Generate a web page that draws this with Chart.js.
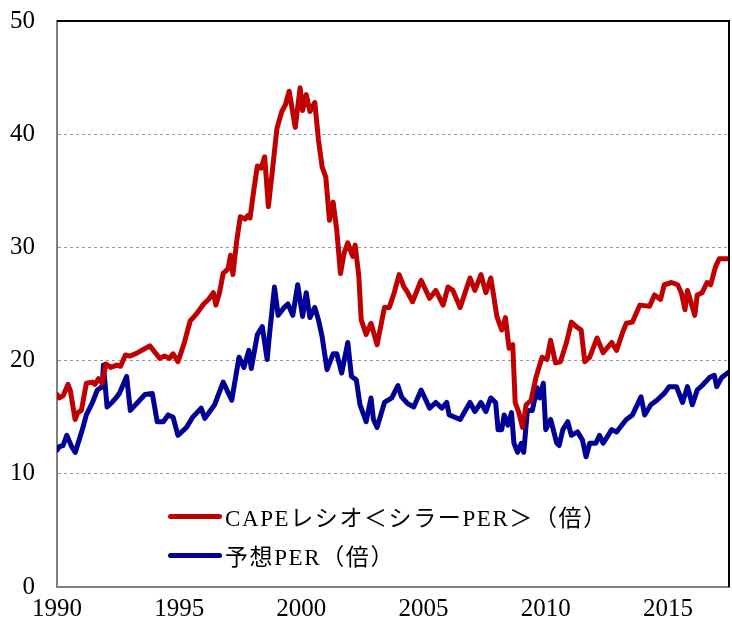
<!DOCTYPE html>
<html>
<head>
<meta charset="utf-8">
<script src="https://cdn.jsdelivr.net/npm/chart.js@4/dist/chart.umd.min.js"></script>
<style>
  body { margin: 0; background: #fff; }
  #wrap { position: relative; width: 732px; height: 628px; }
  .legend { position: absolute; left: 168px; font-family: "Liberation Serif", "Noto Sans CJK JP", serif; font-size: 23px; letter-spacing: 1.6px; color: #000; display: flex; align-items: center; white-space: nowrap; }
  .legend .swatch { width: 54px; height: 5px; border-radius: 3px; margin-right: 3px; }
</style>
</head>
<body>
<div id="wrap">
  <canvas id="chart"></canvas>
  <div class="legend" style="top: 499px;"><span class="swatch" style="background:#C00000"></span><span>CAPEレシオ＜シラーPER＞（倍）</span></div>
  <div class="legend" style="top: 538px;"><span class="swatch" style="background:#000096"></span><span>予想PER（倍）</span></div>
</div>
<script>
// CAPEレシオ（シラーPER）
const capeDates = [1990.0, 1990.1, 1990.25, 1990.45, 1990.55, 1990.74, 1990.85, 1991.0, 1991.2, 1991.45, 1991.55, 1991.7, 1991.85,
    1992.0, 1992.2, 1992.45, 1992.6, 1992.8, 1993.0, 1993.3, 1993.55, 1993.8, 1993.95, 1994.2, 1994.4, 1994.6, 1994.75, 1994.95,
    1995.2, 1995.45, 1995.7, 1996.0, 1996.2, 1996.4, 1996.5, 1996.65, 1996.8, 1997.0, 1997.1, 1997.2, 1997.35, 1997.5, 1997.7,
    1997.8, 1997.9, 1998.05, 1998.2, 1998.35, 1998.5, 1998.65, 1998.8, 1999.0, 1999.2, 1999.35, 1999.5, 1999.75, 1999.95,
    2000.05, 2000.2, 2000.35, 2000.55, 2000.7, 2000.85, 2001.0, 2001.15, 2001.3, 2001.45, 2001.6, 2001.75, 2001.9, 2002.1,
    2002.2, 2002.35, 2002.45, 2002.65, 2002.85, 2003.1, 2003.4, 2003.6, 2003.8, 2004.0, 2004.2, 2004.3, 2004.55, 2004.9,
    2005.25, 2005.5, 2005.8, 2006.0, 2006.2, 2006.5, 2006.9, 2007.1, 2007.35, 2007.55, 2007.75, 2007.85, 2008.0, 2008.2,
    2008.35, 2008.5, 2008.65, 2008.75, 2008.9, 2009.05, 2009.2, 2009.4, 2009.6, 2009.85, 2010.05, 2010.2, 2010.4, 2010.6,
    2010.85, 2011.05, 2011.25, 2011.45, 2011.6, 2011.8, 2012.1, 2012.35, 2012.7, 2012.9, 2013.15, 2013.3, 2013.55, 2013.85,
    2014.25, 2014.45, 2014.7, 2014.85, 2015.15, 2015.4, 2015.55, 2015.7, 2015.8, 2016.1, 2016.2, 2016.4, 2016.6, 2016.75,
    2016.95, 2017.1, 2017.5];
const capeValues = [17.0, 16.7, 16.9, 17.9, 17.3, 14.8, 15.4, 15.6, 18.0, 18.1, 17.9, 18.4, 18.0,
    19.7, 19.4, 19.6, 19.5, 20.5, 20.4, 20.7, 21.0, 21.3, 20.9, 20.2, 20.4, 20.2, 20.6, 19.9,
    21.5, 23.5, 24.1, 25.0, 25.4, 26.0, 24.9, 26.0, 27.7, 28.1, 29.3, 27.6, 30.5, 32.7, 32.5,
    32.8, 32.6, 35.0, 37.2, 37.0, 38.0, 33.6, 36.5, 40.5, 42.0, 42.6, 43.8, 40.6, 44.1,
    42.1, 43.5, 42.0, 42.8, 39.5, 37.1, 36.2, 32.4, 34.0, 31.5, 27.7, 29.5, 30.4, 29.2,
    30.2, 27.5, 23.6, 22.3, 23.3, 21.4, 24.7, 24.7, 26.0, 27.6, 26.5, 26.2, 25.2, 27.1,
    25.5, 26.2, 24.9, 26.5, 26.2, 24.7, 27.3, 26.2, 27.6, 26.0, 27.3, 26.0, 23.9, 22.7,
    23.8, 21.1, 21.4, 16.3, 15.4, 14.1, 16.1, 16.5, 18.5, 20.3, 20.1, 21.8, 19.8, 19.9,
    21.6, 23.4, 23.0, 22.7, 19.9, 20.3, 22.0, 20.7, 21.6, 20.9, 22.5, 23.3, 23.4, 24.9,
    24.8, 25.8, 25.4, 26.7, 26.9, 26.7, 26.0, 24.5, 26.2, 24.0, 25.8, 26.0, 26.9, 26.7,
    28.3, 29.0, 29.0];

// 予想PER
const perDates = [1990.0, 1990.1, 1990.25, 1990.4, 1990.6, 1990.75, 1990.95, 1991.05, 1991.2, 1991.45, 1991.65, 1991.85, 1991.9,
    1992.05, 1992.25, 1992.45, 1992.55, 1992.85, 1993.0, 1993.3, 1993.6, 1993.9, 1994.1, 1994.35, 1994.55, 1994.75, 1994.95,
    1995.3, 1995.55, 1995.9, 1996.05, 1996.45, 1996.8, 1997.15, 1997.45, 1997.65, 1997.85, 1997.95, 1998.2, 1998.4, 1998.6,
    1998.7, 1998.9, 1999.05, 1999.3, 1999.45, 1999.65, 1999.85, 2000.05, 2000.2, 2000.35, 2000.55, 2000.7, 2000.85, 2001.05,
    2001.3, 2001.45, 2001.65, 2001.9, 2002.05, 2002.25, 2002.4, 2002.65, 2002.85, 2002.95, 2003.1, 2003.4, 2003.7, 2003.95,
    2004.1, 2004.35, 2004.6, 2004.9, 2005.25, 2005.5, 2005.75, 2005.95, 2006.05, 2006.5, 2006.9, 2007.1, 2007.35, 2007.55,
    2007.75, 2007.95, 2008.05, 2008.2, 2008.3, 2008.45, 2008.6, 2008.7, 2008.85, 2009.0, 2009.1, 2009.25, 2009.45, 2009.65,
    2009.75, 2009.9, 2010.0, 2010.2, 2010.45, 2010.55, 2010.7, 2010.9, 2011.05, 2011.3, 2011.5, 2011.65, 2011.8, 2012.05,
    2012.2, 2012.35, 2012.7, 2012.9, 2013.15, 2013.3, 2013.55, 2013.9, 2014.05, 2014.3, 2014.55, 2014.85, 2015.05, 2015.35,
    2015.6, 2015.8, 2016.0, 2016.2, 2016.4, 2016.7, 2016.9, 2017.0, 2017.2, 2017.5];
const perValues = [12.1, 12.4, 12.5, 13.4, 12.4, 11.9, 13.3, 14.0, 15.2, 16.3, 17.4, 17.7, 19.6,
    15.9, 16.3, 16.8, 17.1, 18.6, 15.6, 16.3, 17.0, 17.1, 14.6, 14.6, 15.2, 15.0, 13.4,
    14.1, 15.0, 15.8, 14.9, 16.1, 18.1, 16.5, 20.3, 19.4, 20.9, 19.3, 22.3, 23.0, 20.1,
    22.4, 26.5, 24.0, 24.7, 25.0, 24.0, 26.7, 23.9, 26.0, 23.8, 24.7, 23.6, 22.1, 19.2,
    20.6, 20.6, 18.9, 21.6, 18.6, 18.3, 16.1, 14.6, 16.7, 14.8, 14.1, 16.3, 16.7, 17.8,
    16.8, 16.2, 15.9, 17.4, 15.8, 16.3, 15.8, 16.3, 15.2, 14.8, 16.3, 15.5, 16.3, 15.5,
    16.7, 16.3, 13.9, 13.9, 15.2, 14.3, 15.4, 12.7, 11.9, 12.7, 11.9, 15.6, 15.6, 17.6,
    16.7, 18.0, 13.9, 14.8, 12.7, 12.5, 13.9, 14.6, 13.4, 13.7, 13.0, 11.5, 12.7, 12.7,
    13.4, 12.7, 13.9, 13.7, 14.4, 14.8, 15.2, 16.8, 15.2, 16.1, 16.5, 17.1, 17.7, 17.7,
    16.3, 17.7, 16.1, 17.4, 17.8, 18.5, 18.7, 17.7, 18.5, 19.0];

const xTicks = [1990, 1995, 2000, 2005, 2010, 2015];
const yTicks = [0, 10, 20, 30, 40, 50];

const tickFont = { family: '"Liberation Serif", "DejaVu Serif", serif', size: 25 };

// 枠線（上と右は黒）
const framePlugin = {
    id: 'frame',
    afterDraw(chart) {
        const { ctx, chartArea: a } = chart;
        ctx.save();
        ctx.strokeStyle = '#000';
        ctx.lineWidth = 2;
        ctx.beginPath();
        ctx.moveTo(a.left, a.top);
        ctx.lineTo(a.right, a.top);
        ctx.lineTo(a.right, a.bottom);
        ctx.stroke();
        ctx.restore();
    }
};

new Chart(document.getElementById('chart'), {
    type: 'line',
    data: {
        datasets: [
            {
                label: 'CAPEレシオ＜シラーPER＞（倍）',
                data: capeDates.map((d, i) => ({ x: d, y: capeValues[i] })),
                borderColor: '#C00000',
                borderWidth: 5,
                pointRadius: 0,
                tension: 0,
                borderJoinStyle: 'round',
                borderCapStyle: 'round'
            },
            {
                label: '予想PER（倍）',
                data: perDates.map((d, i) => ({ x: d, y: perValues[i] })),
                borderColor: '#000096',
                borderWidth: 5,
                pointRadius: 0,
                tension: 0,
                borderJoinStyle: 'round',
                borderCapStyle: 'round'
            }
        ]
    },
    options: {
        responsive: true,
        maintainAspectRatio: false,
        animation: false,
        layout: { padding: { top: 21, right: 3, left: 0, bottom: 0 } },
        plugins: {
            legend: { display: false },
            tooltip: { enabled: false }
        },
        scales: {
            x: {
                type: 'linear',
                min: 1990,
                max: 2017.5,
                afterFit: s => { s.height = 41; s.paddingLeft = 0; s.paddingRight = 0; },
                afterBuildTicks: s => { s.ticks = xTicks.map(v => ({ value: v })); },
                ticks: {
                    font: tickFont,
                    color: '#000',
                    padding: 7,
                    maxRotation: 0,
                    callback: v => String(v)
                },
                grid: { display: false, drawTicks: false },
                border: { display: true, color: '#808080', width: 2 }
            },
            y: {
                min: 0,
                max: 50,
                afterFit: s => { s.width = 57; s.paddingTop = 0; s.paddingBottom = 0; },
                afterBuildTicks: s => { s.ticks = yTicks.map(v => ({ value: v })); },
                ticks: {
                    font: tickFont,
                    color: '#000',
                    padding: 22
                },
                grid: {
                    drawTicks: false,
                    color: c => (c.tick.value === 0 || c.tick.value === 50) ? 'rgba(0,0,0,0)' : '#9a9a9a',
                    lineWidth: 1
                },
                border: { display: true, color: '#808080', width: 2, dash: [3, 3] }
            }
        }
    },
    plugins: [framePlugin]
});
</script>
</body>
</html>
